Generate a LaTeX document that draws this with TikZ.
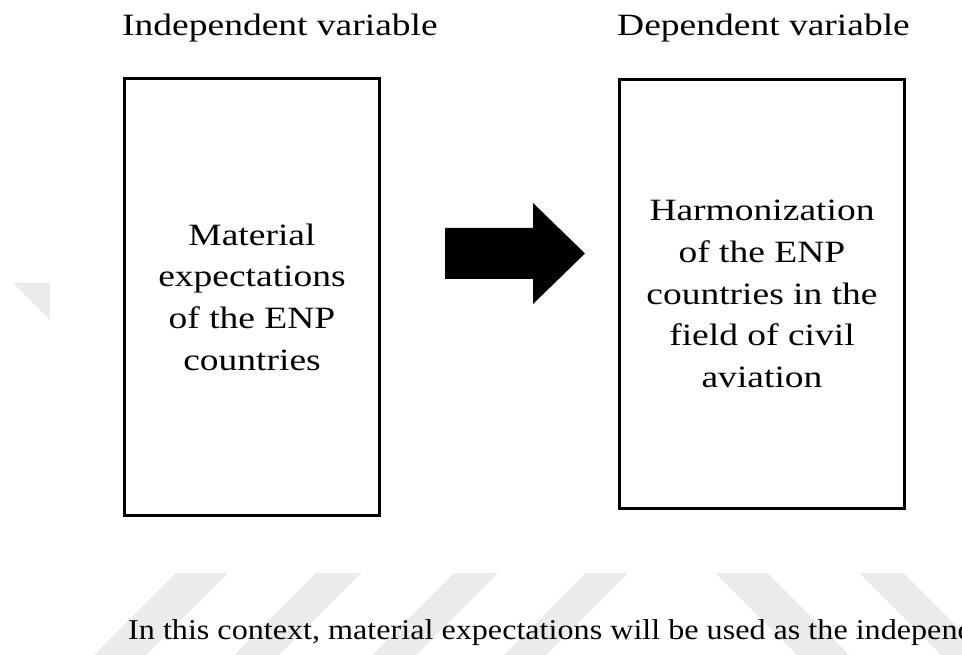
\documentclass[tikz,border=0pt]{standalone}
\usepackage{fontspec}
\setmainfont{Liberation Serif}
% slightly widened serif faces for the figure and for the running text
\newfontfamily\figfont[FakeStretch=1.21]{Liberation Serif}
\newfontfamily\bodyfont[FakeStretch=1.12]{Liberation Serif}

\begin{document}
\begin{tikzpicture}[x=1pt,y=-1pt,
  varbox/.style={draw, line width=3pt, rectangle, inner sep=0pt, align=center,
    font=\figfont\fontsize{31}{41.7}\selectfont},
  heading/.style={anchor=base west, inner sep=0pt,
    font=\figfont\fontsize{31}{37}\selectfont},
  bodyline/.style={anchor=base west, inner sep=0pt,
    font=\bodyfont\fontsize{28.7}{34}\selectfont},
  stripe/.style={fill=black!8}]

\useasboundingbox (0,0) rectangle (962,655);

% faint background stripes
\fill[stripe] (13,283) -- (50,283) -- (50,320) -- cycle;
\fill[stripe] (176,573) -- (228,573) -- (146,655) -- (94,655) -- cycle;
\fill[stripe] (316,573) -- (361,573) -- (279,655) -- (234,655) -- cycle;
\fill[stripe] (454,573) -- (498,573) -- (416,655) -- (372,655) -- cycle;
\fill[stripe] (586,573) -- (628,573) -- (546,655) -- (504,655) -- cycle;
\fill[stripe] (715,573) -- (767,573) -- (849,655) -- (797,655) -- cycle;
\fill[stripe] (859,573) -- (903,573) -- (985,655) -- (941,655) -- cycle;

% headings
\node[heading] (hind) at (122,36) {Independent variable};
\node[heading] (hdep) at (617,36) {Dependent variable};

% the two variable boxes
\node[varbox, minimum width=255pt, minimum height=437pt] (indep) at (252,297)
  {Material\\expectations\\of the ENP\\countries};
\node[varbox, minimum width=285pt, minimum height=429pt] (dep) at (762,294)
  {Harmonization\\of the ENP\\countries in the\\field of civil\\aviation};

% block arrow between the boxes
\fill (445,228) -- (533,228) -- (533,203) -- (585,253.5) -- (533,304)
  -- (533,279) -- (445,279) -- cycle;

% running text below the figure
\node[bodyline] (ctx) at (128,639)
  {In this context, material expectations will be used as the independ};
\end{tikzpicture}
\end{document}
